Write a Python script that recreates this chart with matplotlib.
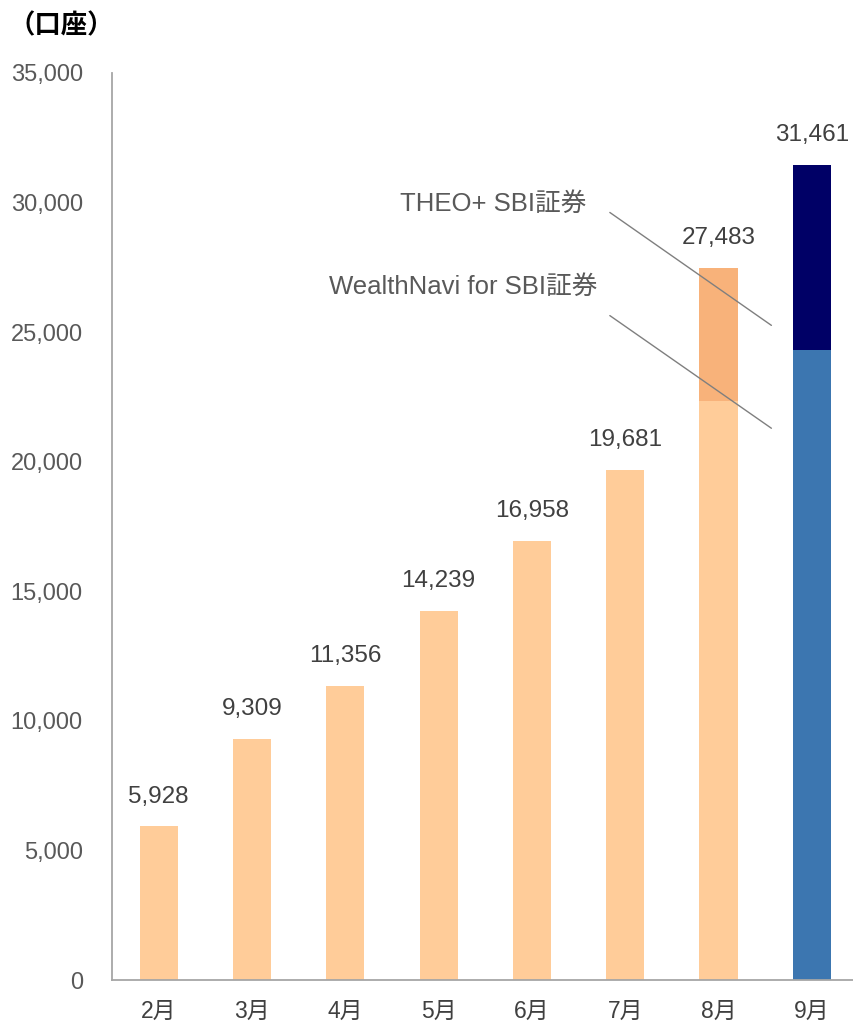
import matplotlib
matplotlib.use("Agg")
import matplotlib.pyplot as plt
import numpy as np

months = ["2月", "3月", "4月", "5月", "6月", "7月", "8月", "9月"]
wealthnavi = [5928, 9309, 11356, 14239, 16958, 19681, 22350, 24320]
theo = [0, 0, 0, 0, 0, 0, 5133, 7141]
base_colors = ["#FFCC99"] * 7 + ["#3C76B0"]
top_colors = ["#FFCC99"] * 6 + ["#F8B27A", "#000066"]
yticks = [0, 5000, 10000, 15000, 20000, 25000, 30000, 35000]

FONT = ["Liberation Sans", "Noto Sans CJK JP", "DejaVu Sans"]
plt.rcParams["font.family"] = FONT

fig = plt.figure(figsize=(8.54, 10.22), dpi=100)
ax = fig.add_axes([112 / 854, 42 / 1022, 746.6 / 854, 907 / 1022])

x = np.arange(len(months))
w = 0.41
ax.bar(x, wealthnavi, width=w, color=base_colors, zorder=2)
ax.bar(x, theo, width=w, bottom=wealthnavi, color=top_colors, zorder=2)

totals = [a + b for a, b in zip(wealthnavi, theo)]
for xi, t in zip(x, totals):
    ax.text(xi, t + 1150, f"{t:,}", ha="center", va="center",
            fontsize=17.5, color="#404040")

ax.set_xlim(-0.5, 7.5)
ax.set_ylim(0, 35000)
ax.set_yticks(yticks)
ax.set_yticklabels([f"{v:,}" for v in yticks])
ax.set_xticks(x)
ax.set_xticklabels(months)
ax.tick_params(axis="y", length=0, pad=21, labelsize=17, labelcolor="#595959")
ax.tick_params(axis="x", length=0, pad=14, labelsize=16.5, labelcolor="#404040")

for s in ["top", "right"]:
    ax.spines[s].set_visible(False)
for s in ["left", "bottom"]:
    ax.spines[s].set_color("#A6A6A6")
    ax.spines[s].set_linewidth(1.3)

# annotations
ax.annotate("", xy=(6.59, 25200), xytext=(4.81, 29680),
            arrowprops=dict(arrowstyle="-", color="#7F7F7F", lw=1), zorder=3)
ax.annotate("", xy=(6.59, 21230), xytext=(4.81, 25700),
            arrowprops=dict(arrowstyle="-", color="#7F7F7F", lw=1), zorder=3)
ax.text(4.58, 29930, "THEO+ SBI証券", ha="right", va="center",
        fontsize=18.5, color="#595959")
ax.text(4.70, 26760, "WealthNavi for SBI証券", ha="right", va="center",
        fontsize=18.5, color="#595959")

fig.text(8 / 854, 1 - 26 / 1022, "（口座）", ha="left", va="center",
         fontsize=19, fontweight="bold", color="#000000",
         family=["Noto Sans CJK JP", "DejaVu Sans"])

fig.savefig("out.png", dpi=100)
